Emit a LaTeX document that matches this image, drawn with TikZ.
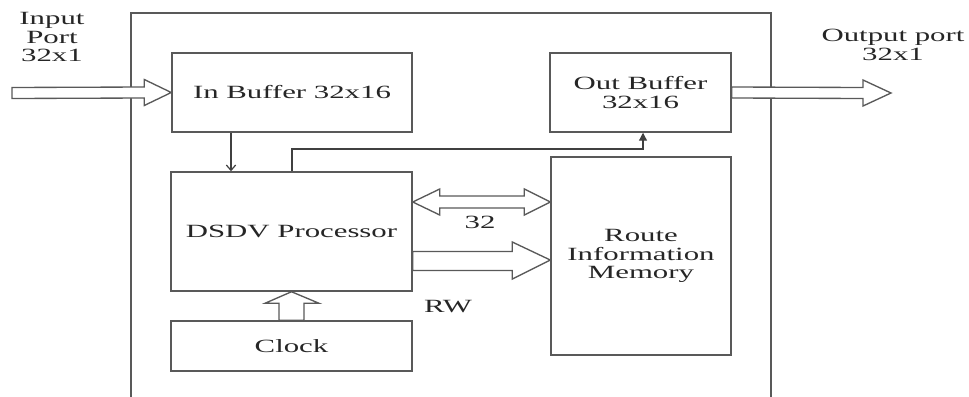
\documentclass[tikz,border=0pt]{standalone}
\usepackage{fontspec}
\setmainfont{Liberation Serif}[FakeStretch=1.65]
\usetikzlibrary{arrows.meta,calc}
\begin{document}
\begin{tikzpicture}[x=0.75pt,y=-0.75pt,
  every node/.style={font=\fontsize{14}{14}\selectfont, text=black!85},
  box/.style={draw=black!65, line width=1.1pt, fill=white, inner sep=0pt, align=center},
  wire/.style={draw=black!75, line width=0.9pt},
  blockarrow/.style={draw=black!65, line width=1pt, fill=white, line join=miter},
  lbl/.style={align=center, inner sep=0pt}]
\useasboundingbox (0,0) rectangle (969,396);
\begin{scope}
\clip (0,0) rectangle (969,396);
\draw[draw=black!65, line width=1.1pt] (131,400) -- (131,13) -- (771,13) -- (771,400);
\end{scope}
% boxes
\node[box, minimum width=180pt, minimum height=59.25pt] (inbuf) at (292,92.5) {In Buffer 32x16};
\node[box, minimum width=135.75pt, minimum height=59.25pt] (outbuf) at (640.5,92.5) {Out Buffer\\32x16};
\node[box, minimum width=180.75pt, minimum height=89.25pt] (dsdv) at (291.5,231.5) {DSDV Processor};
\node[box, minimum width=180.75pt, minimum height=37.5pt] (clock) at (291.5,346) {Clock};
\node[box, minimum width=135pt, minimum height=148.5pt] (rim) at (641,256) {Route\\Information\\Memory};
% labels
\node[lbl] (inlbl) at (52,37) {Input\\Port\\32x1};
\node[lbl] (outlbl) at (893,45) {Output port\\32x1};
\node[lbl] (lbl32) at (480,222) {32};
\node[lbl] (lblrw) at (448,307) {RW};
% input block arrow
\coordinate (inS) at (12,93);
\draw[blockarrow] ($(inS)+(0,-5.5)$) -- ($(inbuf.west)+(-27,-5.5)$) -- ($(inbuf.west)+(-27,-13)$)
  -- (inbuf.west) -- ($(inbuf.west)+(-27,13)$) -- ($(inbuf.west)+(-27,5.5)$) -- ($(inS)+(0,5.5)$) -- cycle;
% output block arrow
\coordinate (outE) at (891,93);
\draw[blockarrow] ($(outbuf.east)+(0,-5.5)$) -- ($(outE)+(-28,-5.5)$) -- ($(outE)+(-28,-13)$)
  -- (outE) -- ($(outE)+(-28,13)$) -- ($(outE)+(-28,5.5)$) -- ($(outbuf.east)+(0,5.5)$) -- cycle;
% double arrow 32
\coordinate (dL) at (dsdv.east |- 0,202);
\coordinate (dR) at (rim.west |- 0,202);
\draw[blockarrow] (dL) -- ($(dL)+(27,-13)$) -- ($(dL)+(27,-6)$) -- ($(dR)+(-26,-6)$) -- ($(dR)+(-26,-13)$)
  -- (dR) -- ($(dR)+(-26,13)$) -- ($(dR)+(-26,6)$) -- ($(dL)+(27,6)$) -- ($(dL)+(27,13)$) -- cycle;
% RW arrow
\coordinate (rwL) at (dsdv.east |- 0,261);
\coordinate (rwR) at (rim.west |- 0,260);
\draw[blockarrow] ($(rwL)+(0,-9.5)$) -- ($(rwR)+(-38,-8.5)$) -- ($(rwR)+(-38,-18)$) -- (rwR)
  -- ($(rwR)+(-38,19)$) -- ($(rwR)+(-38,10.5)$) -- ($(rwL)+(0,9.5)$) -- cycle;
% clock arrow
\draw[blockarrow] ($(clock.north)+(-12.5,0)$) -- ($(clock.north)+(-12.5,-17)$) -- ($(clock.north)+(-26.5,-17)$)
  -- (dsdv.south) -- ($(clock.north)+(27.5,-17)$) -- ($(clock.north)+(12.5,-17)$) -- ($(clock.north)+(12.5,0)$) -- cycle;
% thin connectors
\draw[wire, -{Straight Barb[length=4pt,width=7pt]}] (inbuf.south -| 231,0) -- (dsdv.north -| 231,0);
\coordinate (c1) at (292,149);
\coordinate (c2) at (643,149);
\draw[wire, -{Triangle[length=6pt,width=6pt]}] (dsdv.north -| c1) -- (c1) -- (c2) -- (outbuf.south -| c2);
\end{tikzpicture}
\end{document}
